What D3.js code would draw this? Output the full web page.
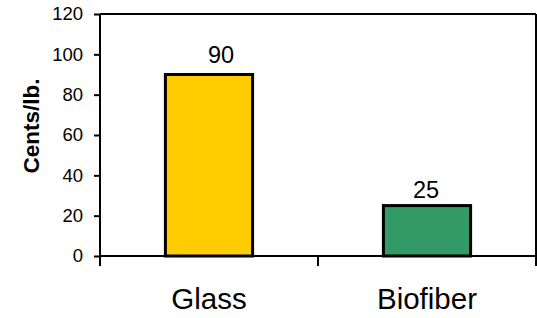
<!DOCTYPE html>
<html>
<head>
<meta charset="utf-8">
<script src="https://cdn.jsdelivr.net/npm/d3@7/dist/d3.min.js"></script>
<style>
  html, body { margin: 0; padding: 0; background: #fff; }
  svg { display: block; }
  text { font-family: "Liberation Sans", Arial, sans-serif; fill: #000; }
</style>
</head>
<body>
<svg id="chart" width="537" height="318"></svg>
<script>
const categories = ["Glass", "Biofiber"];
const values = [90, 25];
const colors = ["#FFCC00", "#339966"];
const yTicks = [0, 20, 40, 60, 80, 100, 120];
const yTitle = "Cents/lb.";

const W = 537, H = 318;
const margin = { top: 14, right: 1, bottom: 62, left: 100 };
const svg = d3.select("#chart");

// label nudges (style only)
const labelDx = [12, -1];
const labelDy = [-12, -8];

const x = d3.scaleBand()
  .domain(categories)
  .range([margin.left, W - margin.right])
  .paddingInner(0.6)
  .paddingOuter(0.3);

const y = d3.scaleLinear()
  .domain([0, 120])
  .range([H - margin.bottom, margin.top]);

// Frame (top and right)
svg.append("line")
  .attr("x1", margin.left).attr("x2", W - margin.right)
  .attr("y1", y(120)).attr("y2", y(120))
  .attr("stroke", "#000").attr("stroke-width", 2);
svg.append("line")
  .attr("x1", W - margin.right).attr("x2", W - margin.right)
  .attr("y1", y(120)).attr("y2", y(0))
  .attr("stroke", "#000").attr("stroke-width", 2);

// Y axis
const yAxis = svg.append("g")
  .attr("transform", `translate(${margin.left},0)`)
  .call(d3.axisLeft(y).tickValues(yTicks).tickSize(6).tickPadding(11).tickFormat(d3.format("d")));
yAxis.select(".domain").attr("stroke", "#000").attr("stroke-width", 2).attr("d", `M0,${y(120)}V${y(0)}`);
yAxis.selectAll(".tick line").attr("stroke", "#000").attr("stroke-width", 2);
yAxis.selectAll(".tick text")
  .style("font-family", '"Liberation Sans", Arial, sans-serif')
  .style("font-size", "18.5px").attr("fill", "#000");

// X axis line
svg.append("line")
  .attr("x1", margin.left).attr("x2", W - margin.right)
  .attr("y1", y(0)).attr("y2", y(0))
  .attr("stroke", "#000").attr("stroke-width", 2);

// X tick marks at category boundaries
const step = x.step();
const boundaries = categories.map(c => x(c) - x.paddingOuter() * step).concat([W - margin.right]);
svg.selectAll(".xtick")
  .data(boundaries)
  .enter().append("line")
  .attr("class", "xtick")
  .attr("x1", d => d).attr("x2", d => d)
  .attr("y1", y(0)).attr("y2", y(0) + 10)
  .attr("stroke", "#000").attr("stroke-width", 2);

// Bars
svg.selectAll(".bar")
  .data(categories)
  .enter().append("rect")
  .attr("class", "bar")
  .attr("x", d => x(d))
  .attr("width", x.bandwidth())
  .attr("y", (d, i) => y(values[i]))
  .attr("height", (d, i) => y(0) - y(values[i]))
  .attr("fill", (d, i) => colors[i])
  .attr("stroke", "#000")
  .attr("stroke-width", 3);

// Value labels
svg.selectAll(".val")
  .data(categories)
  .enter().append("text")
  .attr("class", "val")
  .attr("x", (d, i) => x(d) + x.bandwidth() / 2 + labelDx[i])
  .attr("y", (d, i) => y(values[i]) + labelDy[i])
  .attr("text-anchor", "middle")
  .style("font-size", "23.5px")
  .text((d, i) => values[i]);

// Category labels
svg.selectAll(".cat")
  .data(categories)
  .enter().append("text")
  .attr("class", "cat")
  .attr("x", d => x(d) + x.bandwidth() / 2)
  .attr("y", 309)
  .attr("text-anchor", "middle")
  .style("font-size", "29.5px")
  .text(d => d);

// Y title
svg.append("text")
  .attr("transform", `translate(39,${(y(0) + y(120)) / 2 - 9}) rotate(-90)`)
  .attr("text-anchor", "middle")
  .style("font-size", "22.5px")
  .style("font-weight", "bold")
  .text(yTitle);
</script>
</body>
</html>
